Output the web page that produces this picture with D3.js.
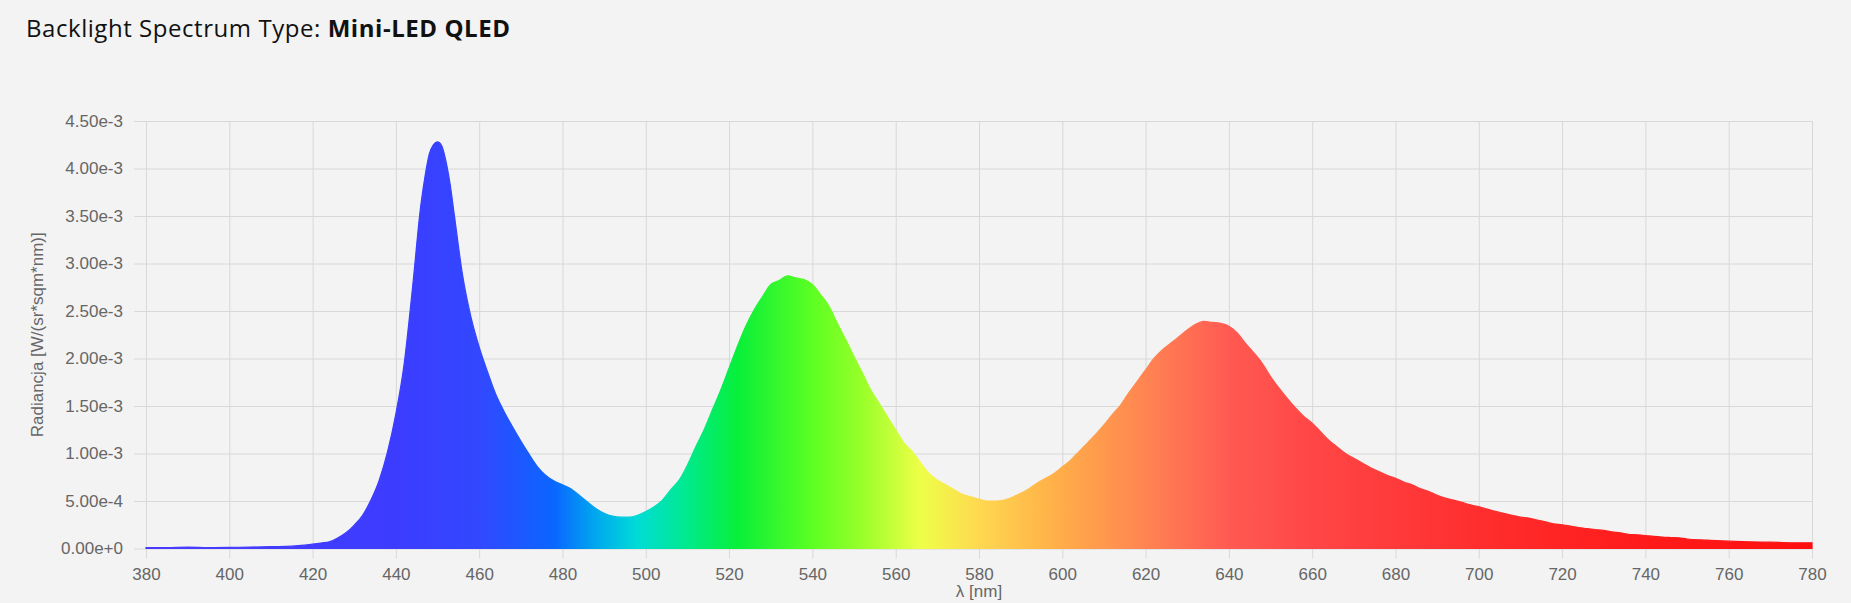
<!DOCTYPE html>
<html>
<head>
<meta charset="utf-8">
<script src="https://cdn.jsdelivr.net/npm/d3@7"></script>
<style>
  body { margin: 0; background: #f3f3f3; }
  svg { display: block; }
</style>
</head>
<body>
<svg id="vis" width="1851" height="603"></svg>
<script>
// Datos (radiancia en unidades de 1e-3 W/(sr*sqm*nm))
const longitudes = [380, 385, 390, 395, 400, 405, 410, 415, 418, 420, 422, 424, 426, 428, 430, 432, 434, 436, 438, 440,
  442, 444, 446, 447, 448, 449, 450, 451, 452, 453, 454, 456, 458, 460, 462, 464, 466, 468, 470, 472,
  474, 476, 478, 480, 482, 484, 486, 488, 490, 492, 494, 496, 498, 500, 502, 504, 506, 508, 510, 512,
  514, 516, 518, 520, 522, 524, 526, 528, 530, 532, 534, 536, 538, 540, 542, 544, 546, 548, 550, 552,
  554, 556, 558, 560, 562, 564, 566, 568, 570, 572, 574, 576, 578, 580, 582, 584, 586, 588, 590, 592,
  594, 596, 598, 600, 602, 604, 606, 608, 610, 612, 614, 616, 618, 620, 622, 624, 626, 628, 630, 632,
  634, 636, 638, 640, 642, 644, 646, 648, 650, 652, 654, 656, 658, 660, 662, 664, 666, 668, 670, 672,
  674, 676, 678, 680, 682, 684, 686, 688, 690, 692, 694, 696, 698, 700, 702, 704, 706, 708, 710, 712,
  714, 716, 718, 720, 722, 724, 726, 728, 730, 732, 734, 736, 738, 740, 742, 744, 746, 748, 750, 755,
  760, 765, 770, 775, 780];

const radiancia = [0.01, 0.01, 0.015, 0.01, 0.012, 0.015, 0.02, 0.025, 0.035, 0.046, 0.058, 0.07, 0.11, 0.165, 0.246, 0.35, 0.51, 0.72, 1.02, 1.42,
  1.95, 2.75, 3.62, 3.92, 4.15, 4.25, 4.28, 4.24, 4.08, 3.84, 3.52, 2.88, 2.44, 2.12, 1.86, 1.62, 1.44, 1.28, 1.13, 0.99,
  0.86, 0.77, 0.71, 0.67, 0.63, 0.56, 0.49, 0.42, 0.37, 0.34, 0.33, 0.33, 0.35, 0.39, 0.44, 0.51, 0.62, 0.72, 0.88, 1.07,
  1.25, 1.46, 1.67, 1.90, 2.13, 2.34, 2.51, 2.65, 2.78, 2.82, 2.87, 2.85, 2.83, 2.78, 2.67, 2.55, 2.37, 2.20, 2.02, 1.85,
  1.67, 1.53, 1.39, 1.25, 1.11, 1.02, 0.90, 0.79, 0.72, 0.67, 0.62, 0.57, 0.545, 0.52, 0.50, 0.50, 0.51, 0.54, 0.58, 0.63,
  0.69, 0.74, 0.79, 0.86, 0.93, 1.02, 1.11, 1.20, 1.30, 1.41, 1.51, 1.64, 1.76, 1.88, 2.00, 2.09, 2.16, 2.23, 2.30, 2.36,
  2.39, 2.38, 2.37, 2.34, 2.27, 2.16, 2.06, 1.95, 1.81, 1.69, 1.58, 1.48, 1.39, 1.32, 1.23, 1.14, 1.07, 1.00, 0.95, 0.90,
  0.85, 0.81, 0.77, 0.74, 0.70, 0.67, 0.63, 0.60, 0.56, 0.53, 0.51, 0.485, 0.46, 0.44, 0.415, 0.39, 0.37, 0.35, 0.33, 0.32,
  0.30, 0.28, 0.26, 0.25, 0.235, 0.22, 0.21, 0.20, 0.19, 0.175, 0.165, 0.15, 0.145, 0.137, 0.127, 0.12, 0.116, 0.113, 0.10, 0.088,
  0.077, 0.07, 0.067, 0.06, 0.06];

// Colores del espectro para el degradado
const coloresNm = [380, 440, 460, 478, 488, 498, 510, 522, 540, 552, 566, 580, 598, 620, 640, 660, 700, 740, 780];
const colores = ["#4a3cff", "#3c3cff", "#3248ff", "#0a66ff", "#00a8ee", "#00dcd6", "#00ea8c", "#08ef3a", "#5cff22", "#99ff2a",
  "#eeff48", "#ffd850", "#ffb048", "#ff8452", "#ff5a52", "#ff4646", "#ff2e2e", "#ff1a1a", "#ff1010"];

const xTicks = d3.range(380, 781, 20);
const yTicks = d3.range(0, 0.0045001, 0.0005);

const SVG = d3.select("#vis");
const margen = { left: 146, right: 1812, top: 121, bottom: 548.5 };

SVG.append("rect").attr("width", 1851).attr("height", 603).attr("fill", "#f3f3f3");

const x = d3.scaleLinear().domain([380, 780]).range([margen.left, margen.right]);
const y = d3.scaleLinear().domain([0, 0.0045]).range([margen.bottom, margen.top]);

// Titulo
const titulo = SVG.append("text")
  .attr("x", 26).attr("y", 37)
  .attr("font-family", "'Open Sans', sans-serif")
  .attr("font-size", 24)
  .attr("letter-spacing", 0.55)
  .attr("fill", "#111");
titulo.append("tspan").text("Backlight Spectrum Type: ");
titulo.append("tspan").attr("font-weight", 700).text("Mini-LED QLED");

// Degradado de colores
const grad = SVG.append("defs").append("linearGradient")
  .attr("id", "espectro")
  .attr("gradientUnits", "userSpaceOnUse")
  .attr("x1", x(380)).attr("x2", x(780))
  .attr("y1", 0).attr("y2", 0);
grad.selectAll("stop")
  .data(coloresNm)
  .join("stop")
  .attr("offset", d => (d - 380) / 400)
  .attr("stop-color", (d, i) => colores[i]);

// Rejilla vertical (con marcas hacia abajo)
SVG.append("g")
  .attr("transform", `translate(0, ${margen.bottom})`)
  .call(d3.axisBottom(x).tickValues(xTicks).tickSize(-(margen.bottom - margen.top)).tickFormat(""))
  .call(g => g.select(".domain").remove())
  .call(g => g.selectAll("line").attr("stroke", "#d8d8d8").attr("y2", 10).attr("y1", -(margen.bottom - margen.top)));

// Rejilla horizontal (con marcas hacia la izquierda)
SVG.append("g")
  .attr("transform", `translate(${margen.left}, 0)`)
  .call(d3.axisLeft(y).tickValues(yTicks).tickFormat(""))
  .call(g => g.select(".domain").remove())
  .call(g => g.selectAll("line").attr("stroke", "#d8d8d8").attr("x1", -12).attr("x2", margen.right - margen.left));

// Area del espectro
const datos = longitudes.map((l, i) => ({ nm: l, v: radiancia[i] * 1e-3 }));

const area = d3.area()
  .x(d => x(d.nm))
  .y0(y(0))
  .y1(d => y(d.v))
  .curve(d3.curveMonotoneX);

SVG.append("path")
  .datum(datos)
  .attr("d", area)
  .attr("fill", "url(#espectro)")
  .attr("stroke", "url(#espectro)")
  .attr("stroke-width", 1.2);

// Eje Y: etiquetas
const ejeY = SVG.append("g")
  .attr("transform", `translate(${margen.left}, 0)`)
  .call(d3.axisLeft(y).tickValues(yTicks).tickFormat(d3.format(".2e")).tickSize(12).tickPadding(11));
ejeY.select(".domain").remove();
ejeY.selectAll("line").remove();
ejeY.selectAll("text")
  .attr("font-family", "'Liberation Sans', Arial, sans-serif")
  .attr("font-size", 17)
  .attr("fill", "#666");

// Eje X: etiquetas
const ejeX = SVG.append("g")
  .attr("transform", `translate(0, ${margen.bottom})`)
  .call(d3.axisBottom(x).tickValues(xTicks).tickSize(10).tickPadding(9));
ejeX.select(".domain").remove();
ejeX.selectAll("line").remove();
ejeX.selectAll("text")
  .attr("font-family", "'Liberation Sans', Arial, sans-serif")
  .attr("font-size", 17)
  .attr("fill", "#666");

// Titulos de ejes
SVG.append("text")
  .attr("transform", `translate(43, ${(margen.top + margen.bottom) / 2}) rotate(-90)`)
  .attr("text-anchor", "middle")
  .attr("font-family", "'Liberation Sans', Arial, sans-serif")
  .attr("font-size", 17)
  .attr("fill", "#666")
  .text("Radiancja [W/(sr*sqm*nm)]");

SVG.append("text")
  .attr("x", (margen.left + margen.right) / 2)
  .attr("y", 597)
  .attr("text-anchor", "middle")
  .attr("font-family", "'Liberation Sans', Arial, sans-serif")
  .attr("font-size", 17)
  .attr("fill", "#666")
  .text("λ [nm]");
</script>
</body>
</html>
